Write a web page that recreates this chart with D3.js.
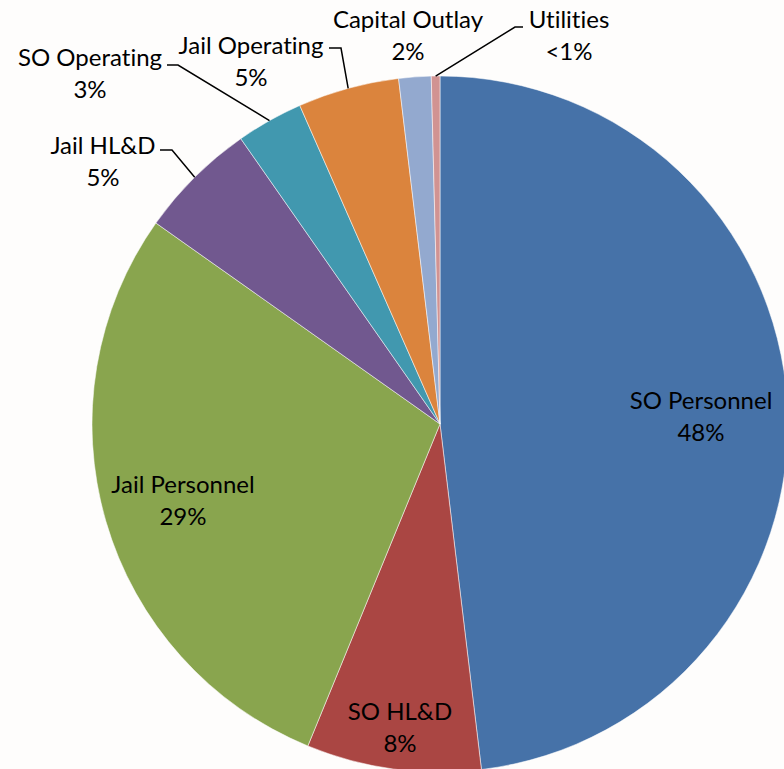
<!DOCTYPE html>
<html lang="en">
<head>
<meta charset="UTF-8">
<title>Budget</title>
<script src="https://d3js.org/d3.v7.min.js"></script>
<style>
    body { margin: 0; background: #fefdfc; }
    text { font-family: Lato, "Open Sans", sans-serif; font-size: 24px; fill: #000;
           font-variant-ligatures: none; font-feature-settings: "liga" 0; }
</style>
</head>
<body>
<script>
    // data, clockwise from 12 o'clock
    var categories = ["SO Personnel", "SO HL&D", "Jail Personnel", "Jail HL&D",
                      "SO Operating", "Jail Operating", "Capital Outlay", "Utilities"];
    var values = [48.1, 8.1, 28.6, 5.5, 3.1, 4.7, 1.5, 0.4];
    var pctLabels = ["48%", "8%", "29%", "5%", "3%", "5%", "2%", "<1%"];
    var colors = ["#4672a8", "#aa4643", "#89a54e", "#71588f",
                  "#4198af", "#db843d", "#93a9cf", "#d19392"];

    var svgWidth = 784, svgHeight = 769;
    var cx = 440, cy = 424, radius = 348;

    // label placement (layout only): x/y of text centre, optional leader elbow + end
    var labelLayout = [
        {x: 701, y: 400},
        {x: 400, y: 711},
        {x: 183, y: 484},
        {x: 103, y: 145, elbow: [172, 150], end: [160, 150]},
        {x: 90, y: 57, elbow: [178, 65], end: [167, 65]},
        {x: 251, y: 45, elbow: [341, 48], end: [329, 48]},
        {x: 408, y: 19},
        {x: 569, y: 19, elbow: [515, 27], end: [523, 27]}
    ];

    var data = categories.map(function (c, i) {
        return {name: c, value: values[i], pct: pctLabels[i], color: colors[i], lay: labelLayout[i]};
    });

    var pie = d3.pie().sort(null).value(function (d) { return d.value; });
    var arc = d3.arc().innerRadius(0).outerRadius(radius);
    var edgeArc = d3.arc().innerRadius(radius).outerRadius(radius);

    var svg = d3.select("body").append("svg")
        .attr("width", svgWidth)
        .attr("height", svgHeight);

    var g = svg.append("g").attr("transform", "translate(" + cx + "," + cy + ")");
    var arcs = pie(data);

    g.selectAll("path.slice")
        .data(arcs)
        .enter()
        .append("path")
        .attr("class", "slice")
        .attr("d", arc)
        .attr("fill", function (d) { return d.data.color; })
        .attr("stroke", "#ffffff")
        .attr("stroke-opacity", 0.5)
        .attr("stroke-width", 1);

    // leader lines
    svg.selectAll("path.leader")
        .data(arcs.filter(function (d) { return d.data.lay.elbow; }))
        .enter()
        .append("path")
        .attr("class", "leader")
        .attr("d", function (d) {
            var p = edgeArc.centroid(d);
            return d3.line()([[cx + p[0], cy + p[1]], d.data.lay.elbow, d.data.lay.end]);
        })
        .attr("fill", "none")
        .attr("stroke", "#000")
        .attr("stroke-width", 1.5);

    var labels = svg.selectAll("text.label")
        .data(data)
        .enter()
        .append("text")
        .attr("class", "label")
        .attr("text-anchor", "middle");
    labels.append("tspan")
        .attr("x", function (d) { return d.lay.x; })
        .attr("y", function (d) { return d.lay.y + 9; })
        .text(function (d) { return d.name; });
    labels.append("tspan")
        .attr("x", function (d) { return d.lay.x; })
        .attr("y", function (d) { return d.lay.y + 41; })
        .text(function (d) { return d.pct; });
</script>
</body>
</html>
